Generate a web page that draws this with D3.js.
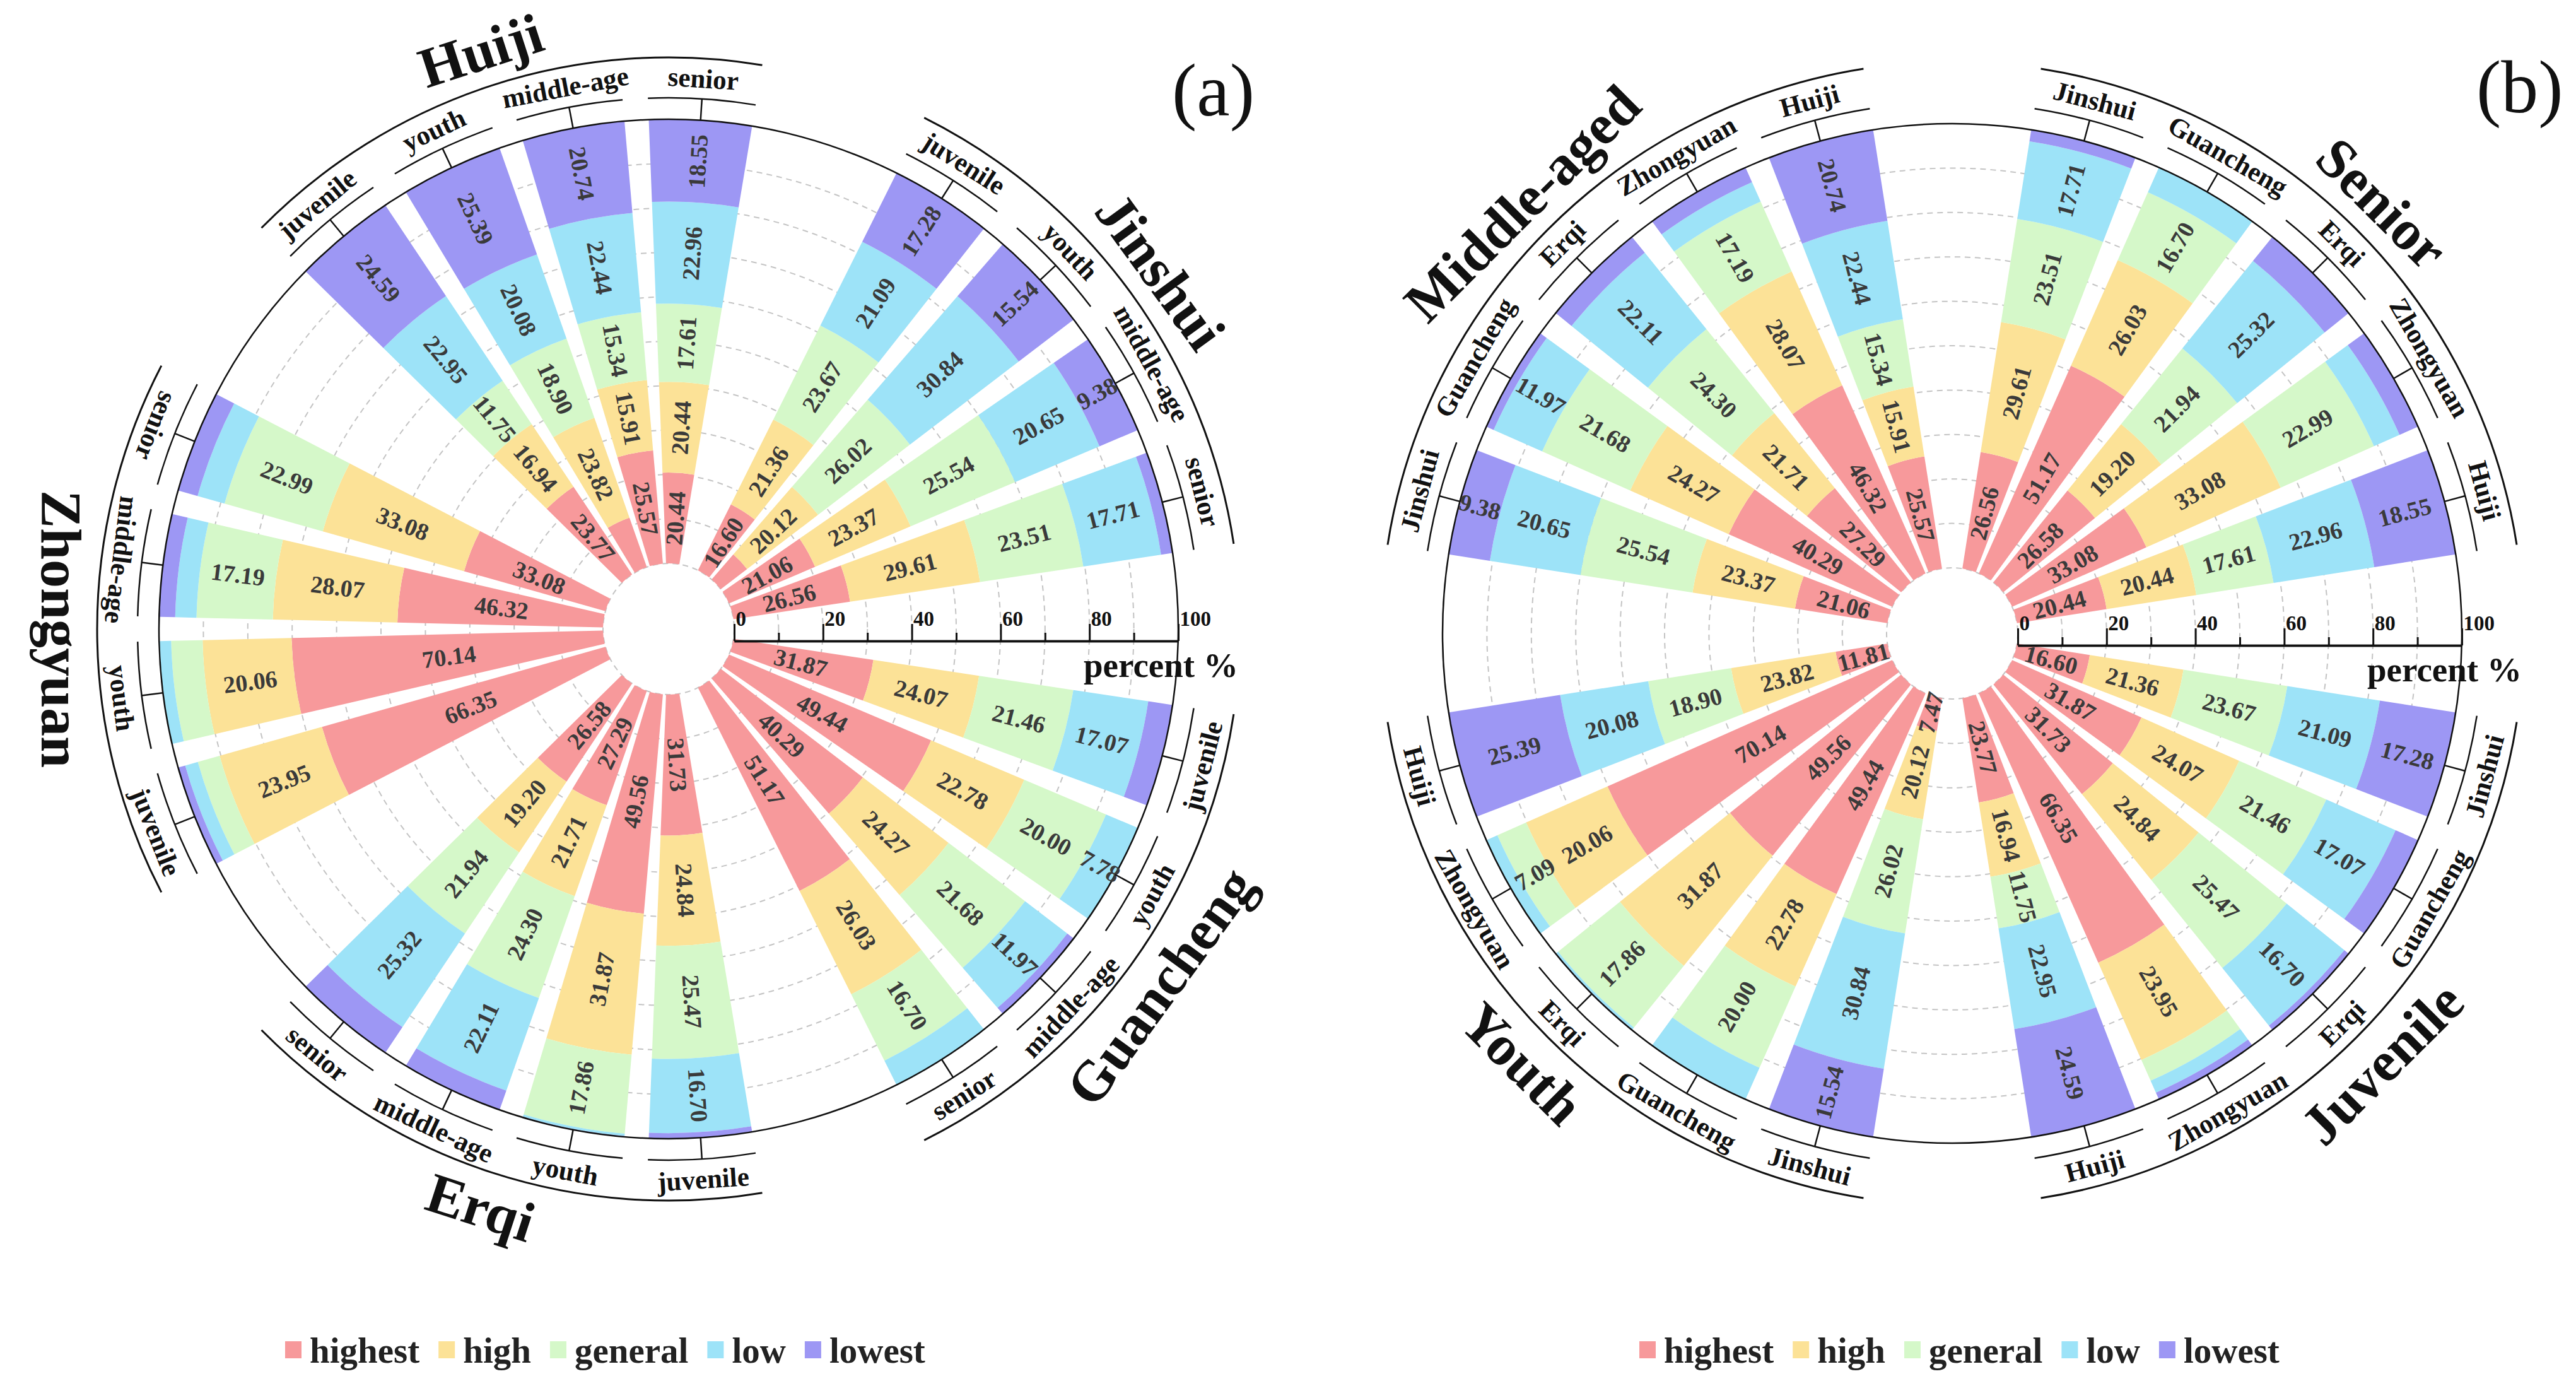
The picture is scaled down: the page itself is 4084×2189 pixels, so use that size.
<!DOCTYPE html>
<html><head><meta charset="utf-8">
<script src="https://cdn.jsdelivr.net/npm/d3@7"></script>
<style>body{margin:0;background:#fff}</style>
</head><body>
<svg id="chart" width="4084" height="2189" xmlns="http://www.w3.org/2000/svg"></svg>
<script>
// ---------------- DATA ----------------
const levels = ["highest", "high", "general", "low", "lowest"];
const levelColors = ["#F7999B", "#FCE297", "#D5F8C9", "#9DE3F8", "#9D97F4"];
const districts = ["Jinshui", "Guancheng", "Erqi", "Zhongyuan", "Huiji"];
const ages = ["juvenile", "youth", "middle-age", "senior"];
const ageGroupNames = ["Juvenile", "Youth", "Middle-aged", "Senior"];
// each row: [highest, high, general, low, lowest]  rows in order of ages
const jinshui   = [[16.60,21.36,23.67,21.09,17.28],[7.47,20.12,26.02,30.84,15.54],[21.06,23.37,25.54,20.65,9.38],[26.56,29.61,23.51,17.71,2.61]];
const guancheng = [[31.87,24.07,21.46,17.07,5.53],[49.44,22.78,20.00,7.78,0.00],[40.29,24.27,21.68,11.97,1.79],[51.17,26.03,16.70,6.10,0.00]];
const erqi      = [[31.73,24.84,25.47,16.70,1.26],[49.56,31.87,17.86,0.55,0.16],[27.29,21.71,24.30,22.11,4.59],[26.58,19.20,21.94,25.32,6.96]];
const zhongyuan = [[66.35,23.95,5.10,2.95,1.65],[70.14,20.06,7.09,2.71,0.00],[46.32,28.07,17.19,4.80,3.62],[33.08,33.08,22.99,6.30,4.55]];
const huiji     = [[23.77,16.94,11.75,22.95,24.59],[11.81,23.82,18.90,20.08,25.39],[25.57,15.91,15.34,22.44,20.74],[20.44,20.44,17.61,22.96,18.55]];
const majorTicks = [0, 20, 40, 60, 80, 100];
const minorTicks = [10, 30, 50, 70, 90];
const gridValues = [0, 10, 20, 30, 40, 50, 60, 70, 80, 90];
// panel (a): districts clockwise from east; panel (b): age groups clockwise from east
const orderA = ["Guancheng", "Erqi", "Zhongyuan", "Huiji", "Jinshui"];
const orderB = ["Juvenile", "Youth", "Middle-aged", "Senior"];
const hiddenA = ["Huiji|youth|highest"];
const hiddenB = ["Guancheng|youth|low"];

const table = {Jinshui: jinshui, Guancheng: guancheng, Erqi: erqi, Zhongyuan: zhongyuan, Huiji: huiji};

// ---------------- BUILD ----------------
const FONT = "'Liberation Serif','Times New Roman',Times,serif";
const svg = d3.select("#chart");
svg.append("rect").attr("width", 4084).attr("height", 2189).attr("fill", "#fff");

const R0 = 104, R1 = 808;

function buildBars(panel) {
  const bars = [];
  if (panel === "a") {
    orderA.forEach(d => ages.forEach((a, ai) => bars.push({group: d, item: a, district: d, age: a, values: table[d][ai]})));
  } else {
    orderB.forEach((g, gi) => districts.forEach(d => bars.push({group: g, item: d, district: d, age: ages[gi], values: table[d][gi]})));
  }
  return bars;
}

function drawPanel(cfg) {
  const bars = buildBars(cfg.id);
  const groups = cfg.id === "a" ? orderA : orderB;
  const perGroup = cfg.id === "a" ? ages.length : districts.length;
  const keys = [];
  groups.forEach(g => { keys.push("gap|" + g); for (let i = 0; i < perGroup; i++) keys.push(g + "|" + i); });
  const step = 2 * Math.PI / keys.length;
  const x = d3.scaleBand().domain(keys)
    .range([Math.PI / 2 - step / 2, Math.PI / 2 - step / 2 + 2 * Math.PI])
    .paddingInner(0.19).paddingOuter(0.095);
  const r = d3.scaleLinear().domain([0, 100]).range([R0, R1]);

  const g = svg.append("g").attr("transform", `translate(${cfg.cx},${cfg.cy})`);

  g.append("g").selectAll("circle").data(gridValues).join("circle")
    .attr("r", d => r(d)).attr("fill", "none").attr("stroke", "#c4c4c4")
    .attr("stroke-width", 2).attr("stroke-dasharray", "9,7");

  bars.forEach(b => {
    b.key = b.group + "|" + (cfg.id === "a" ? ages.indexOf(b.item) : districts.indexOf(b.item));
    b.a0 = x(b.key); b.a1 = b.a0 + x.bandwidth(); b.am = (b.a0 + b.a1) / 2;
    let cum = 0;
    b.segs = b.values.map((v, li) => { const s = {v, li, c0: cum, c1: cum + v}; cum += v; return s; });
  });
  const arc = d3.arc();
  const barG = g.append("g");
  bars.forEach(b => {
    barG.selectAll(null).data(b.segs.filter(s => s.v > 0)).join("path")
      .attr("d", s => arc({innerRadius: r(s.c0), outerRadius: r(s.c1), startAngle: b.a0, endAngle: b.a1}))
      .attr("fill", s => levelColors[s.li]);
  });

  g.append("circle").attr("r", R1).attr("fill", "none").attr("stroke", "#111").attr("stroke-width", 2.5);

  const hidden = cfg.id === "a" ? hiddenA : hiddenB;
  const labG = g.append("g").attr("font-family", FONT).attr("font-weight", "bold")
    .attr("font-size", 38).attr("fill", "#3a3a3a");
  bars.forEach(b => {
    let th = b.am * 180 / Math.PI - 90;
    th = ((th % 360) + 360) % 360;
    let rot = (th > 90 && th < 270) ? th - 180 : th;
    b.segs.forEach(s => {
      const tag = b.district + "|" + b.age + "|" + levels[s.li];
      if (s.v < cfg.minLabel || hidden.includes(tag)) return;
      const rr = r(s.c0 + s.v / 2);
      const px = rr * Math.sin(b.am), py = -rr * Math.cos(b.am);
      labG.append("text").attr("transform", `translate(${px},${py}) rotate(${rot})`)
        .attr("text-anchor", "middle").attr("dominant-baseline", "central")
        .text(s.v.toFixed(2));
    });
  });

  const rSmall = R1 + 34, rSub = R1 + 66, rGroup = R1 + 98, rGLab = R1 + 156;
  const decoG = g.append("g").attr("fill", "none").attr("stroke", "#111");
  const txtG = g.append("g").attr("font-family", FONT).attr("font-weight", "bold").attr("fill", "#111");
  groups.forEach(gr => {
    const gb = bars.filter(b => b.group === gr);
    const ga0 = gb[0].a0, ga1 = gb[gb.length - 1].a1, gam = (ga0 + ga1) / 2;
    let gth = ((gam * 180 / Math.PI - 90) % 360 + 360) % 360;
    const flip = gth <= 180.5;
    const p = d3.path(); p.arc(0, 0, rGroup, ga0 - Math.PI / 2, ga1 - Math.PI / 2);
    decoG.append("path").attr("d", p.toString()).attr("stroke-width", 3);
    const gpx = rGLab * Math.sin(gam), gpy = -rGLab * Math.cos(gam);
    txtG.append("text").attr("transform", `translate(${gpx},${gpy}) rotate(${flip ? gth - 90 : gth + 90})`)
      .attr("text-anchor", "middle").attr("dominant-baseline", "central")
      .attr("font-size", 90).text(gr);
    gb.forEach(b => {
      const sp = d3.path(); sp.arc(0, 0, rSmall, b.a0 - Math.PI / 2, b.a1 - Math.PI / 2);
      decoG.append("path").attr("d", sp.toString()).attr("stroke-width", 2.5);
      decoG.append("line")
        .attr("x1", R1 * Math.sin(b.am)).attr("y1", -R1 * Math.cos(b.am))
        .attr("x2", rSmall * Math.sin(b.am)).attr("y2", -rSmall * Math.cos(b.am))
        .attr("stroke-width", 2.5);
      const th = b.am * 180 / Math.PI - 90;
      const spx = rSub * Math.sin(b.am), spy = -rSub * Math.cos(b.am);
      txtG.append("text").attr("transform", `translate(${spx},${spy}) rotate(${flip ? th - 90 : th + 90})`)
        .attr("text-anchor", "middle").attr("dominant-baseline", "central")
        .attr("font-size", 43).text(b.item);
    });
  });

  const ax = d3.scaleLinear().domain([0, 100]).range([R0, R1]);
  const axG = g.append("g").attr("transform", `translate(0,${cfg.axisDy})`);
  const major = axG.append("g").call(d3.axisTop(ax).tickValues(majorTicks).tickSize(27).tickSizeOuter(0).tickFormat(d3.format("d")));
  axG.append("g").call(d3.axisTop(ax).tickValues(minorTicks).tickSize(13).tickSizeOuter(0).tickFormat(""));
  axG.selectAll(".domain").attr("stroke", "#111").attr("stroke-width", 3.5);
  axG.selectAll(".tick line").attr("stroke", "#111").attr("stroke-width", 3);
  major.selectAll(".tick text").attr("font-family", FONT).attr("font-weight", "bold")
    .attr("font-size", 33).attr("fill", "#111").attr("text-anchor", "start")
    .attr("dx", 2).attr("y", -24).attr("dy", 0);
  axG.append("text").attr("x", R1 - 150).attr("y", 57)
    .attr("font-family", FONT).attr("font-weight", "bold").attr("font-size", 55).attr("fill", "#111")
    .text("percent %");

  svg.append("text").attr("x", cfg.tagX).attr("y", cfg.tagY)
    .attr("font-family", FONT).attr("font-size", 118).attr("fill", "#111").text(cfg.tag);

  const lg = svg.append("g").attr("font-family", FONT).attr("font-weight", "bold").attr("font-size", 57).attr("fill", "#222");
  let lx = cfg.legendX;
  levels.forEach((lv, i) => {
    lg.append("rect").attr("x", lx).attr("y", 2126).attr("width", 26).attr("height", 27).attr("fill", levelColors[i]);
    const t = lg.append("text").attr("x", lx + 39).attr("y", 2160).text(lv);
    lx = lx + 39 + t.node().getComputedTextLength() + 30;
  });
}

drawPanel({id: "a", cx: 1060, cy: 997, axisDy: 19, tag: "(a)", tagX: 1858, tagY: 183, legendX: 452, minLabel: 7.5});
drawPanel({id: "b", cx: 3095, cy: 1004, axisDy: 19, tag: "(b)", tagX: 3926, tagY: 178, legendX: 2599, minLabel: 7.0});
</script>
</body></html>
